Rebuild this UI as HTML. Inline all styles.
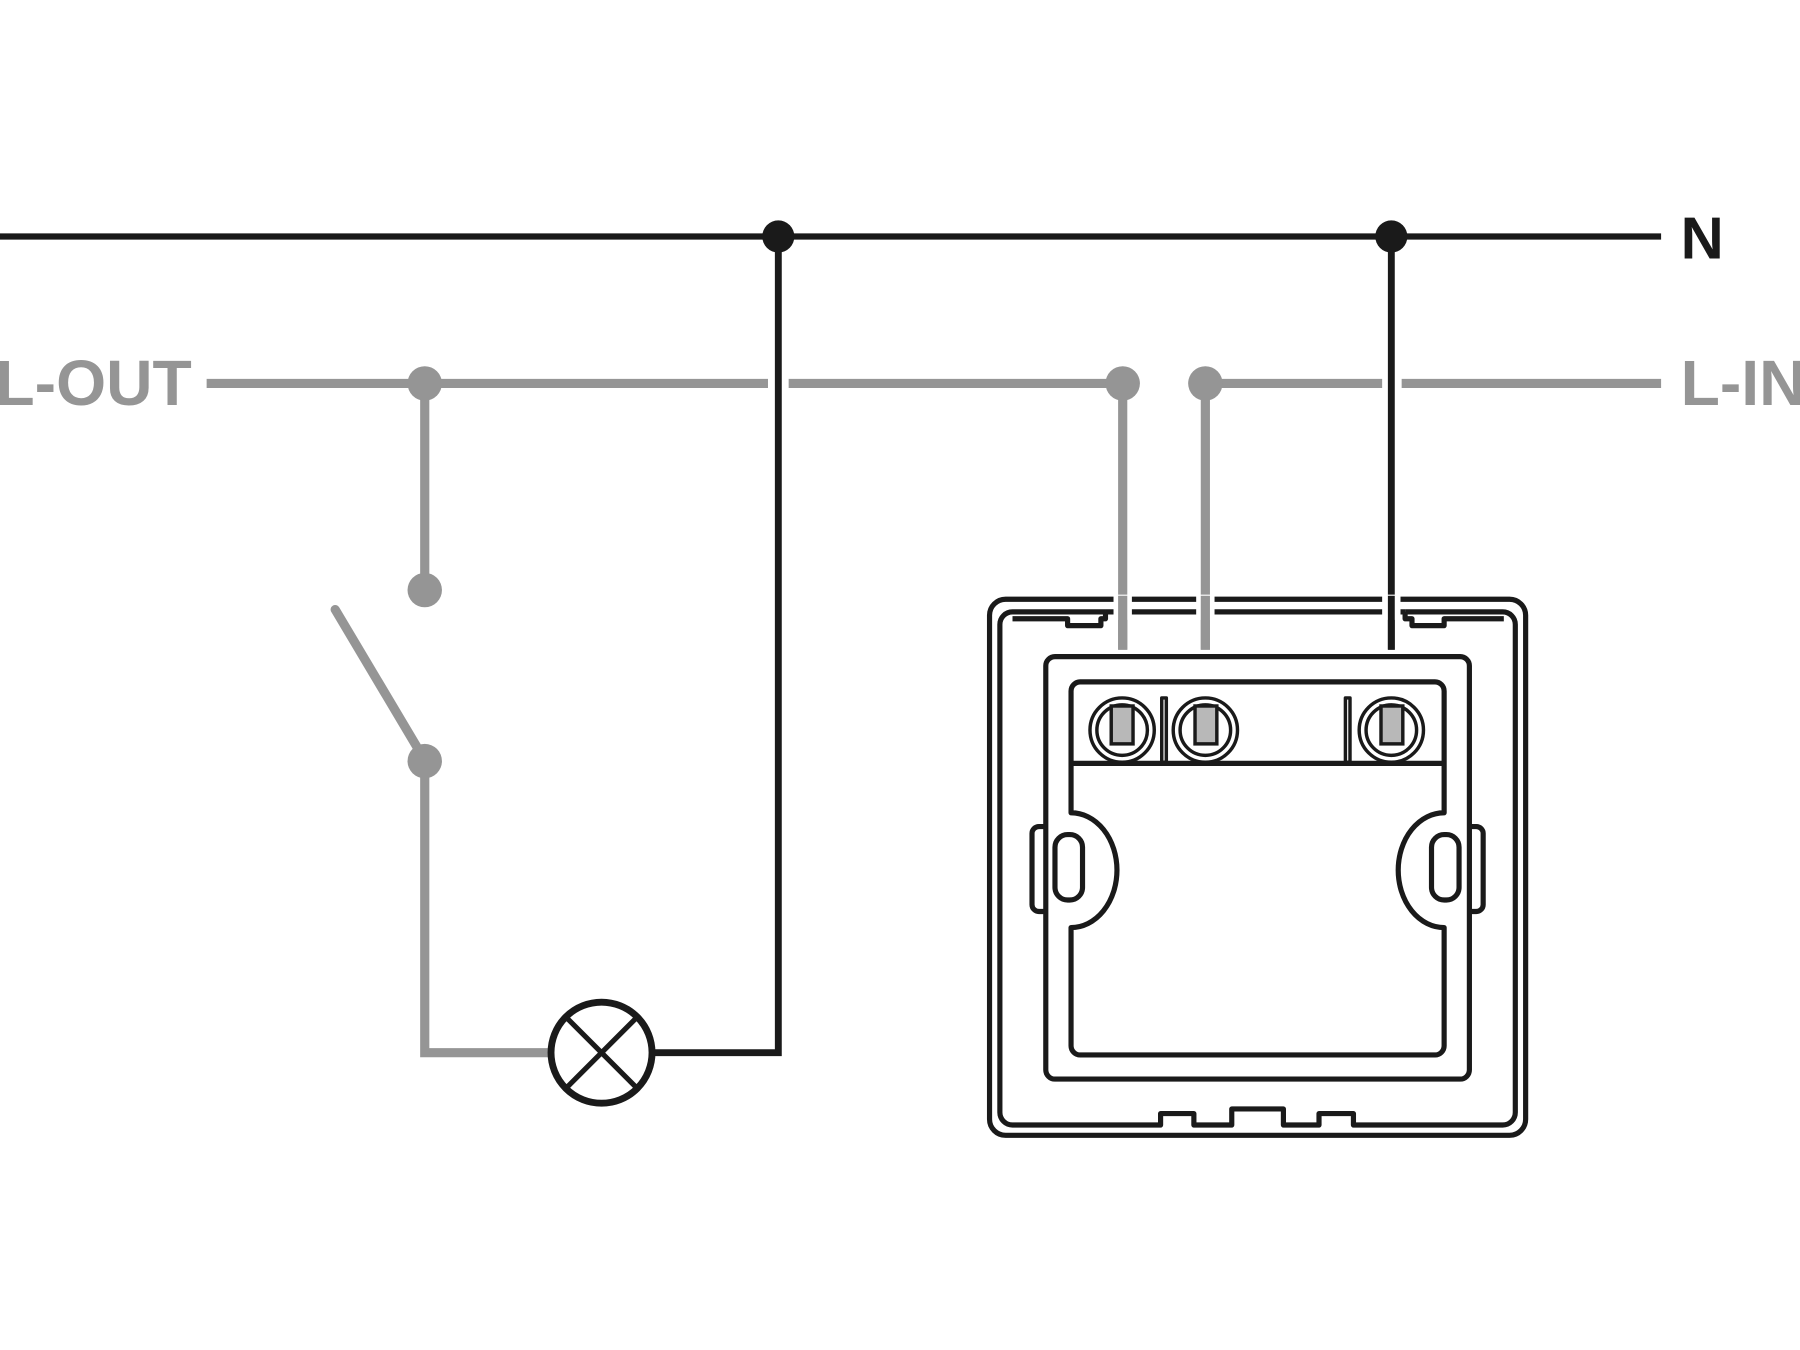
<!DOCTYPE html>
<html><head><meta charset="utf-8"><style>html,body{margin:0;padding:0;background:#fff;}svg{display:block}</style></head>
<body>
<svg width="1800" height="1350" viewBox="0 0 1568 1176" xmlns="http://www.w3.org/2000/svg">
<rect width="1568" height="1176" fill="#fff"/>
<line x1="0" y1="206" x2="1447" y2="206" stroke="#1a1a1a" stroke-width="5.5"/>
<text x="1464" y="225" font-family="Liberation Sans, sans-serif" font-weight="bold" font-size="52" fill="#1a1a1a">N</text>
<g stroke="#959595" stroke-width="8" fill="none">
<line x1="180" y1="334" x2="669" y2="334"/>
<line x1="687" y1="334" x2="978" y2="334"/>
<line x1="1050" y1="334" x2="1204" y2="334"/>
<line x1="1221" y1="334" x2="1447" y2="334"/>
<line x1="370" y1="334" x2="370" y2="514"/>
<line x1="292" y1="531" x2="364" y2="652" stroke-linecap="round"/>
<polyline points="370,663 370,917 480,917"/>
<line x1="978" y1="334" x2="978" y2="566"/>
<line x1="1050" y1="334" x2="1050" y2="566"/>
</g>
<g fill="#959595">
<circle cx="370" cy="334" r="15"/><circle cx="370" cy="514" r="15"/><circle cx="370" cy="663" r="15"/>
<circle cx="978" cy="334" r="15"/><circle cx="1050" cy="334" r="15"/>
</g>
<text x="-4" y="353" font-family="Liberation Sans, sans-serif" font-weight="bold" font-size="56" fill="#959595">L-OUT</text>
<text x="1464" y="353" font-family="Liberation Sans, sans-serif" font-weight="bold" font-size="56" fill="#959595">L-IN</text>
<g stroke="#1a1a1a" stroke-width="6" fill="none">
<polyline points="678,206 678,917 570,917"/>
<line x1="1212" y1="206" x2="1212" y2="566"/>
<circle cx="524" cy="917" r="44"/>
<line x1="493" y1="886" x2="555" y2="948" stroke-width="4.5"/>
<line x1="555" y1="886" x2="493" y2="948" stroke-width="4.5"/>
</g>
<circle cx="678" cy="206" r="14" fill="#1a1a1a"/><circle cx="1212" cy="206" r="14" fill="#1a1a1a"/>
<g stroke="#1a1a1a" stroke-width="4.5" fill="none" stroke-linejoin="round">
<rect x="862" y="522" width="467" height="467" rx="14"/>
<path d="M963,533 H882 a11,11 0 0 0 -11,11 V969 a11,11 0 0 0 11,11 H1011 V970 H1040 V980 H1073 V966 H1118 V980 H1149 V970 H1179 V980 H1309 a11,11 0 0 0 11,-11 V544 a11,11 0 0 0 -11,-11 H1224"/>
<line x1="963" y1="533" x2="1224" y2="533"/>
<path d="M963,533 V539 H959 V545 H930 V539 H882"/>
<path d="M1224,533 V539 H1230 V545 H1258 V539 H1310"/>
<rect x="911" y="572" width="369" height="368" rx="8"/>
<path d="M941,594 H1250 a8,8 0 0 1 8,8 V708 a40,50 0 0 0 0,100 V911 a8,8 0 0 1 -8,8 H941 a8,8 0 0 1 -8,-8 V808 a40,50 0 0 0 0,-100 V602 a8,8 0 0 1 8,-8 Z"/>
<line x1="933" y1="665" x2="1258" y2="665"/>
<path d="M911,720 H905 a6,6 0 0 0 -6,6 V788 a6,6 0 0 0 6,6 H911"/>
<path d="M1280,720 H1286 a6,6 0 0 1 6,6 V788 a6,6 0 0 1 -6,6 H1280"/>
<rect x="919" y="727" width="24" height="57" rx="11"/>
<rect x="1247" y="727" width="24" height="57" rx="11"/>
<g stroke-width="3">
<circle cx="977.5" cy="636" r="28"/><circle cx="977.5" cy="636" r="22"/>
<circle cx="1050" cy="636" r="28"/><circle cx="1050" cy="636" r="22"/>
<circle cx="1212" cy="636" r="28"/><circle cx="1212" cy="636" r="22"/>
<rect x="1012" y="608" width="4" height="56"/>
<rect x="1172" y="608" width="4" height="56"/>
</g>
</g>
<rect x="970" y="518" width="16" height="22" fill="#fff"/>
<rect x="1042" y="518" width="16" height="22" fill="#fff"/>
<rect x="1204" y="518" width="16" height="22" fill="#fff"/>
<line x1="978" y1="519" x2="978" y2="566" stroke="#959595" stroke-width="8"/>
<line x1="1050" y1="519" x2="1050" y2="566" stroke="#959595" stroke-width="8"/>
<line x1="1212" y1="519" x2="1212" y2="566" stroke="#1a1a1a" stroke-width="6"/>
<g fill="#b8b8b8" stroke="#1a1a1a" stroke-width="3">
<rect x="968" y="615" width="19" height="33"/>
<rect x="1041" y="615" width="19" height="33"/>
<rect x="1203" y="615" width="19" height="33"/>
</g>
</svg>
</body></html>
